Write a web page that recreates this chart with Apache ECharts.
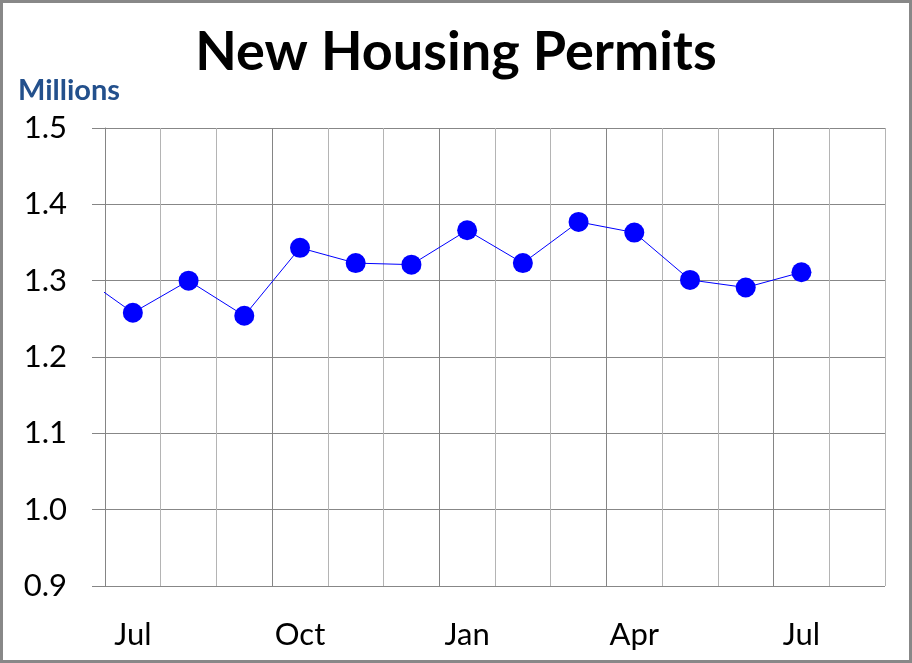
<!DOCTYPE html>
<html>
<head>
<meta charset="utf-8">
<script src="https://cdn.jsdelivr.net/npm/echarts@6/dist/echarts.min.js"></script>
<style>
html,body{margin:0;padding:0;background:#fff;}
#chart{width:912px;height:663px;}
</style>
</head>
<body>
<div id="chart"></div>
<script>
// ---- data ----
const months = ['Jul','Aug','Sep','Oct','Nov','Dec','Jan','Feb','Mar','Apr','May','Jun','Jul','Aug'];
const permits = [1.258, 1.300, 1.254, 1.343, 1.323, 1.321, 1.366, 1.323, 1.377, 1.363, 1.301, 1.291, 1.311];
const priorMonth = 1.310; // previous June, cut off at the left edge of the plot
const yMin = 0.9, yMax = 1.5, yStep = 0.1;
const titleText = 'New Housing Permits';
const unitText = 'Millions';

const chart = echarts.init(document.getElementById('chart'), null, {renderer: 'canvas'});
const FONT = 'Lato, "Open Sans", sans-serif';

// lead-in segment on a hidden value axis aligned with the category slots
const leadIn = [[-1 + 0.5, priorMonth], [0 + 0.5, permits[0]]];

chart.setOption({
  animation: false,
  backgroundColor: '#ffffff',
  title: [
    {text: titleText, left: 'center', top: 21,
     textStyle: {fontFamily: FONT, fontWeight: 'bold', fontSize: 54, color: '#000'}},
    {text: unitText, left: 13, top: 71,
     textStyle: {fontFamily: FONT, fontWeight: 'bold', fontSize: 29, color: '#23508c'}}
  ],
  grid: {left: 105, right: 27, top: 128, bottom: 77, containLabel: false},
  xAxis: [
    {type: 'category', data: months, boundaryGap: true,
     axisLine: {show: false}, axisTick: {show: false},
     axisLabel: {interval: 2, margin: 33, fontFamily: FONT, fontSize: 31, color: '#000'},
     splitLine: {show: true, interval: 0,
       lineStyle: {color: ['#858585', '#b4b4b4', '#b4b4b4'], width: 1}}},
    {type: 'value', min: 0, max: months.length, show: false}
  ],
  yAxis: {
    type: 'value', min: yMin, max: yMax, interval: yStep,
    axisLine: {show: true, lineStyle: {color: '#858585', width: 1}},
    axisTick: {show: true, length: 13, lineStyle: {color: '#858585'}},
    axisLabel: {margin: 38, fontFamily: FONT, fontSize: 31, color: '#000',
      formatter: v => v.toFixed(1)},
    splitLine: {show: true, lineStyle: {color: '#878787', width: 1}}
  },
  series: [
    {type: 'line', xAxisIndex: 1, data: leadIn, showSymbol: false, clip: true,
     lineStyle: {color: '#0000ff', width: 1}, silent: true},
    {type: 'line', xAxisIndex: 0, data: permits, symbol: 'circle', symbolSize: 20,
     lineStyle: {color: '#0000ff', width: 1}, itemStyle: {color: '#0000ff'}}
  ],
  graphic: [
    {type: 'rect', shape: {x: 1.5, y: 1.5, width: 909, height: 660},
     style: {fill: null, stroke: '#888888', lineWidth: 3}, z: 100}
  ]
});
</script>
</body>
</html>
